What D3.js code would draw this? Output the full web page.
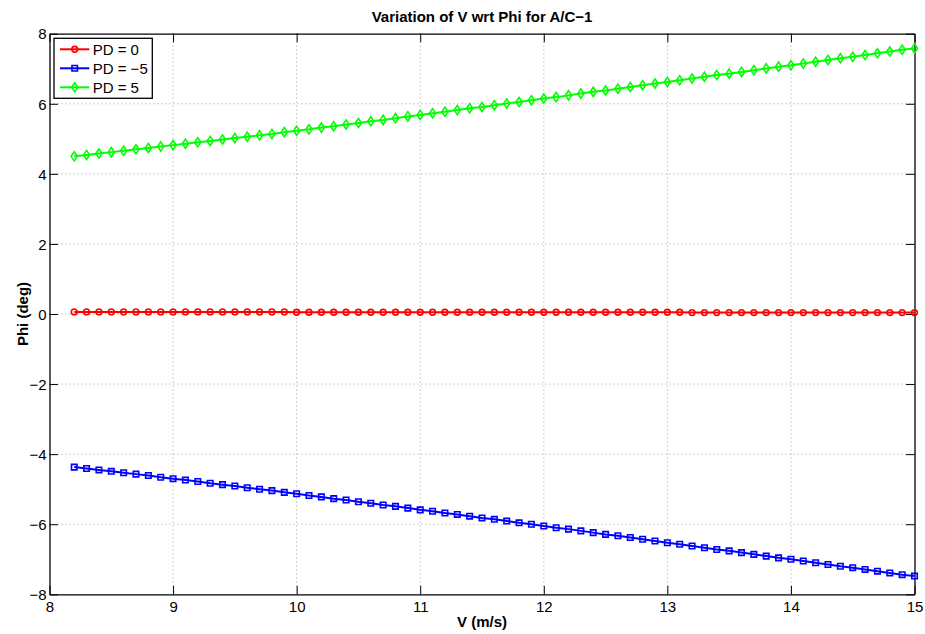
<!DOCTYPE html>
<html><head><meta charset="utf-8">
<script src="https://cdn.jsdelivr.net/npm/d3@7"></script>
<style>body{margin:0;background:#fff}svg{display:block}text{font-family:"Liberation Sans",Arial,Helvetica,sans-serif}</style>
</head><body>
<svg id="c" width="925" height="634"></svg>
<script>
const vValues = [8.2,8.3,8.4,8.5,8.6,8.7,8.8,8.9,9.0,9.1,9.2,9.3,9.4,9.5,9.6,9.7,9.8,9.9,10.0,10.1,10.2,10.3,10.4,10.5,10.6,10.7,10.8,10.9,11.0,11.1,11.2,11.3,11.4,11.5,11.6,11.7,11.8,11.9,12.0,12.1,12.2,12.3,12.4,12.5,12.6,12.7,12.8,12.9,13.0,13.1,13.2,13.3,13.4,13.5,13.6,13.7,13.8,13.9,14.0,14.1,14.2,14.3,14.4,14.5,14.6,14.7,14.8,14.9,15.0];
const phiPD0 = [0.06,0.06,0.06,0.06,0.06,0.06,0.06,0.06,0.06,0.06,0.06,0.06,0.06,0.06,0.06,0.06,0.06,0.06,0.05,0.05,0.05,0.05,0.05,0.05,0.05,0.05,0.05,0.05,0.05,0.05,0.05,0.05,0.05,0.05,0.05,0.05,0.05,0.05,0.05,0.05,0.05,0.05,0.05,0.05,0.05,0.05,0.05,0.05,0.05,0.05,0.04,0.04,0.04,0.04,0.04,0.04,0.04,0.04,0.04,0.04,0.04,0.04,0.04,0.04,0.04,0.04,0.04,0.04,0.04];
const phiPDm5 = [-4.37,-4.41,-4.45,-4.49,-4.53,-4.57,-4.61,-4.66,-4.70,-4.74,-4.78,-4.83,-4.87,-4.91,-4.96,-5.00,-5.04,-5.09,-5.13,-5.18,-5.22,-5.27,-5.31,-5.36,-5.40,-5.45,-5.49,-5.54,-5.59,-5.63,-5.68,-5.72,-5.77,-5.82,-5.86,-5.91,-5.96,-6.00,-6.05,-6.10,-6.14,-6.19,-6.24,-6.29,-6.33,-6.38,-6.43,-6.48,-6.53,-6.57,-6.62,-6.67,-6.72,-6.76,-6.81,-6.86,-6.91,-6.96,-7.00,-7.05,-7.10,-7.15,-7.20,-7.24,-7.29,-7.34,-7.39,-7.44,-7.48];
const phiPD5 = [4.50,4.54,4.58,4.62,4.66,4.70,4.74,4.78,4.82,4.86,4.90,4.94,4.98,5.02,5.06,5.10,5.14,5.19,5.23,5.27,5.32,5.36,5.41,5.45,5.50,5.54,5.59,5.64,5.68,5.73,5.77,5.82,5.87,5.91,5.96,6.01,6.05,6.10,6.15,6.19,6.24,6.29,6.34,6.38,6.43,6.48,6.53,6.58,6.62,6.67,6.72,6.77,6.82,6.86,6.91,6.96,7.01,7.06,7.10,7.15,7.20,7.25,7.30,7.34,7.39,7.44,7.49,7.54,7.58];
const seriesNames = ["PD = 0","PD = \u22125","PD = 5"];
const seriesColors = ["#ff0000","#0000ff","#00ff00"];
const seriesMarkers = ["circle","square","diamond"];
const xTicks = [8,9,10,11,12,13,14,15];
const yTicks = [-8,-6,-4,-2,0,2,4,6,8];
const titleText = "Variation of V wrt Phi for A/C\u22121";
const xLabel = "V (m/s)";
const yLabel = "Phi (deg)";

const svg = d3.select("#c");
const L = 49.5, R = 914.5, T = 33.7, B = 594.3;
const x = d3.scaleLinear().domain([8,15]).range([L,R]);
const y = d3.scaleLinear().domain([-8,8]).range([B,T]);
const fmt = d => d < 0 ? "\u2212" + Math.abs(d) : String(d);

// grid
const g = svg.append("g");
g.selectAll(".gx").data(xTicks.slice(1,-1)).enter().append("line")
  .attr("x1",d=>x(d)).attr("x2",d=>x(d)).attr("y1",T).attr("y2",B)
  .attr("stroke","#a0a0a0").attr("stroke-width",1).attr("stroke-dasharray","1,3");
g.selectAll(".gy").data(yTicks.slice(1,-1)).enter().append("line")
  .attr("y1",d=>y(d)).attr("y2",d=>y(d)).attr("x1",L).attr("x2",R)
  .attr("stroke","#a0a0a0").attr("stroke-width",1).attr("stroke-dasharray","1,3");

// axes using d3 axis (inward ticks)
const tl = 8.5;
const axB = svg.append("g").attr("transform",`translate(0,${B})`)
  .call(d3.axisBottom(x).tickValues(xTicks).tickSizeInner(-tl).tickSizeOuter(0).tickPadding(7).tickFormat(fmt));
const axT = svg.append("g").attr("transform",`translate(0,${T})`)
  .call(d3.axisTop(x).tickValues(xTicks).tickSizeInner(-tl).tickSizeOuter(0).tickFormat(""));
const axL = svg.append("g").attr("transform",`translate(${L},0)`)
  .call(d3.axisLeft(y).tickValues(yTicks).tickSizeInner(-tl).tickSizeOuter(0).tickPadding(3).tickFormat(fmt));
const axR = svg.append("g").attr("transform",`translate(${R},0)`)
  .call(d3.axisRight(y).tickValues(yTicks).tickSizeInner(-tl).tickSizeOuter(0).tickFormat(""));
[axB,axT,axL,axR].forEach(a=>{
  a.select(".domain").attr("stroke","#000").attr("stroke-width",1.3);
  a.selectAll(".tick line").attr("stroke","#000").attr("stroke-width",1);
  a.selectAll("text").attr("font-size",15).attr("fill","#000")
   .attr("font-family",'"Liberation Sans",Arial,sans-serif');
});
axL.selectAll("text").attr("dy","0.35em");

// series
const seriesData = [phiPD0, phiPDm5, phiPD5];
const symType = {circle:d3.symbolCircle, square:d3.symbolSquare, diamond:d3.symbolDiamond};
const symSize = {circle:26, square:30, diamond:28};
const line = d3.line().x(d=>x(d[0])).y(d=>y(d[1]));
function drawMarker(sel, type, color){
  if(type==="diamond"){
    sel.append("path").attr("d","M0,-4.6L3.1,0L0,4.6L-3.1,0Z");
  } else {
    sel.append("path").attr("d", d3.symbol().type(symType[type]).size(symSize[type])());
  }
  sel.select("path").attr("fill","none").attr("stroke",color).attr("stroke-width",1.6);
}
seriesData.forEach((vals,i)=>{
  const pts = vValues.map((v,j)=>[v,vals[j]]);
  svg.append("path").datum(pts).attr("d",line).attr("fill","none")
    .attr("stroke",seriesColors[i]).attr("stroke-width",2);
  svg.append("g").selectAll("g").data(pts).enter().append("g")
    .attr("transform",d=>`translate(${x(d[0])},${y(d[1])})`)
    .each(function(){ drawMarker(d3.select(this), seriesMarkers[i], seriesColors[i]); });
});

// legend
const lg = svg.append("g");
lg.append("rect").attr("x",54).attr("y",38.3).attr("width",98.3).attr("height",60)
  .attr("fill","#fff").attr("stroke","#000").attr("stroke-width",1.3);
seriesNames.forEach((n,i)=>{
  const yy = 49.3 + i*19;
  lg.append("line").attr("x1",60).attr("x2",89.3).attr("y1",yy).attr("y2",yy)
    .attr("stroke",seriesColors[i]).attr("stroke-width",2);
  const m = lg.append("g").attr("transform",`translate(74.7,${yy})`);
  drawMarker(m, seriesMarkers[i], seriesColors[i]);
  lg.append("text").attr("x",92.7).attr("y",yy).attr("dy","0.36em")
    .attr("font-size",15).text(n);
});

// titles
svg.append("text").attr("x",(L+R)/2).attr("y",22.3).attr("text-anchor","middle")
  .attr("font-size",15).attr("font-weight","bold").text(titleText);
svg.append("text").attr("x",(L+R)/2).attr("y",627).attr("text-anchor","middle")
  .attr("font-size",15).attr("font-weight","bold").text(xLabel);
svg.append("text").attr("transform",`translate(28,${(T+B)/2}) rotate(-90)`).attr("text-anchor","middle")
  .attr("font-size",15).attr("font-weight","bold").text(yLabel);
</script>
</body></html>
